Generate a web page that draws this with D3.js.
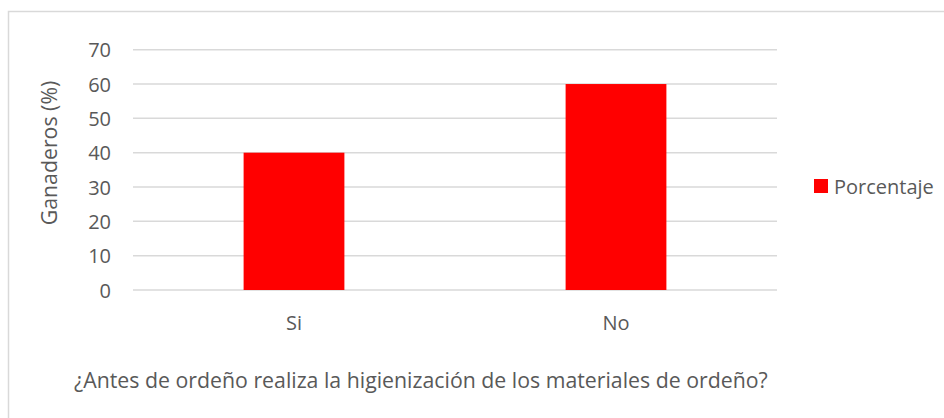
<!DOCTYPE html>
<html>
<head>
<meta charset="utf-8">
<script src="https://cdn.jsdelivr.net/npm/d3@7"></script>
<style>
  html, body { margin: 0; padding: 0; background: #fff; }
  svg { display: block; }
  text { font-family: "Open Sans", sans-serif; fill: #595959; }
</style>
</head>
<body>
<svg id="chart" width="944" height="418"></svg>
<script>
// Survey answers and share of farmers (%)
const categories = ["Si", "No"];
const porcentaje = [40, 60];
const yTicks = [0, 10, 20, 30, 40, 50, 60, 70];
const seriesName = "Porcentaje";
const xTitle = "¿Antes de ordeño realiza la higienización de los materiales de ordeño?";
const yTitle = "Ganaderos (%)";

const svg = d3.select("#chart");

// Outer chart frame
svg.append("rect")
  .attr("x", 8.5).attr("y", 11.5)
  .attr("width", 960).attr("height", 440)
  .attr("fill", "none").attr("stroke", "#d9d9d9").attr("stroke-width", 1.5);

const plot = { left: 133, right: 777, top: 49.7, bottom: 290 };

const x = d3.scaleBand()
  .domain(categories)
  .range([plot.left, plot.right])
  .paddingInner(0.687)
  .paddingOuter(0.3435);

const y = d3.scaleLinear()
  .domain([0, 70])
  .range([plot.bottom, plot.top]);

// Horizontal gridlines
svg.append("g")
  .selectAll("line")
  .data(yTicks)
  .join("line")
  .attr("x1", plot.left).attr("x2", plot.right)
  .attr("y1", d => y(d)).attr("y2", d => y(d))
  .attr("stroke", "#d9d9d9").attr("stroke-width", 1.5);

// Y axis tick labels
const yAxis = d3.axisLeft(y).tickValues(yTicks).tickSize(0).tickPadding(0);
const gy = svg.append("g")
  .attr("transform", `translate(111,0)`)
  .call(yAxis);
gy.select(".domain").remove();
gy.selectAll("text")
  .attr("font-size", 20)
  .attr("font-family", null)
  .attr("fill", null)
  .attr("dy", "0.35em");

// Bars
svg.append("g")
  .selectAll("rect")
  .data(categories.map((c, i) => ({ c, v: porcentaje[i] })))
  .join("rect")
  .attr("x", d => x(d.c))
  .attr("width", x.bandwidth())
  .attr("y", d => y(d.v))
  .attr("height", d => y(0) - y(d.v))
  .attr("fill", "#ff0000");

// X axis category labels
const xAxis = d3.axisBottom(x).tickSize(0).tickPadding(0);
const gx = svg.append("g")
  .attr("transform", `translate(0,${plot.bottom})`)
  .call(xAxis);
gx.select(".domain").remove();
gx.selectAll("text")
  .attr("font-size", 20)
  .attr("font-family", null)
  .attr("fill", null)
  .attr("y", 40)
  .attr("dy", "0");

// Axis titles
svg.append("text")
  .attr("x", 74).attr("y", 388)
  .attr("font-size", 21.3)
  .text(xTitle);

svg.append("text")
  .attr("transform", "translate(57,153) rotate(-90)")
  .attr("text-anchor", "middle")
  .attr("font-size", 21.3)
  .text(yTitle);

// Legend
const legend = svg.append("g").attr("transform", "translate(814,179)");
legend.append("rect")
  .attr("width", 14).attr("height", 14)
  .attr("fill", "#ff0000");
legend.append("text")
  .attr("x", 20).attr("y", 14.5)
  .attr("font-size", 20)
  .text(seriesName);
</script>
</body>
</html>
